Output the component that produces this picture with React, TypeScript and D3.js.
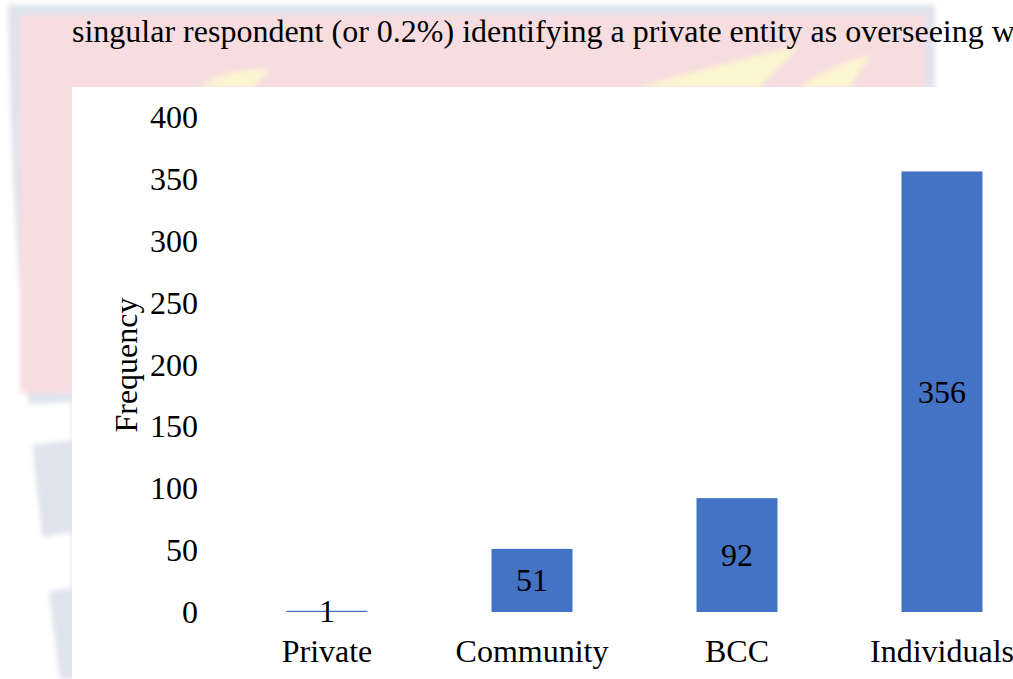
import React from "react";
import * as d3 from "d3";

const categories = ["Private", "Community", "BCC", "Individuals"];
const frequencies = [1, 51, 92, 356];
const yTicks = [0, 50, 100, 150, 200, 250, 300, 350, 400];
const yAxisTitle = "Frequency";
const bodyText = "singular respondent (or 0.2%) identifying a private entity as overseeing w";

const W = 1013;
const H = 679;
const FONT = "'Liberation Serif', 'Times New Roman', serif";
const BAR = "#4472C4";
const FS = 32;

export default function App() {
  const y = d3.scaleLinear().domain([0, 400]).range([612, 117]);
  const x = d3
    .scaleBand<string>()
    .domain(categories)
    .range([224.5, 1044.5])
    .paddingInner(0.605)
    .paddingOuter(0.3025);

  return (
    <svg
      width={W}
      height={H}
      style={{ position: "absolute", left: 0, top: 0, background: "#fff" }}
      fontFamily={FONT}
    >
      <defs>
        <filter id="blur" x="-20%" y="-20%" width="140%" height="140%">
          <feGaussianBlur stdDeviation="2.5" />
        </filter>
      </defs>
      {/* watermark background */}
      <g filter="url(#blur)">
        <path d="M8,5 L935,5 L935,679 L60,679 C40,520 14,330 8,5 Z" fill="#dfe3ed" />
        <rect x={20} y={15} width={905} height={378} fill="#f8dde0" />
        <path d="M20,405 L72,402 L72,440 L22,446 Z" fill="#ffffff" />
        <path d="M30,540 L72,532 L72,588 L44,592 Z" fill="#ffffff" />
        <path d="M200,87 C215,75 240,68 270,70 C262,78 255,84 252,87 Z" fill="#fbf5d0" />
        <path d="M640,87 C680,75 740,60 800,45 C785,62 770,76 760,87 Z" fill="#fbf5d0" />
        <path d="M800,87 C820,72 845,62 870,55 C862,68 855,78 850,87 Z" fill="#fbf5d0" />
      </g>
      <text x={72} y={42} fontSize={FS} fontFamily={FONT} fill="#000">
        {bodyText}
      </text>
      {/* chart area */}
      <rect x={72} y={87} width={W - 72} height={H - 87} fill="#fff" />
      {yTicks.map((t) => (
        <text
          key={t}
          x={198}
          y={y(t)}
          fontSize={FS}
          fontFamily={FONT}
          textAnchor="end"
          dominantBaseline="central"
          fill="#000"
        >
          {t}
        </text>
      ))}
      <text
        transform={`translate(126,365) rotate(-90)`}
        fontSize={FS}
        fontFamily={FONT}
        textAnchor="middle"
        dominantBaseline="central"
        fill="#000"
      >
        {yAxisTitle}
      </text>
      {categories.map((c, i) => {
        const v = frequencies[i];
        const x0 = x(c)!;
        const top = y(v);
        const h = Math.max(y(0) - top, 1);
        return (
          <g key={c}>
            <rect x={x0} y={y(0) - h} width={x.bandwidth()} height={h} fill={BAR} />
            <text
              x={x0 + x.bandwidth() / 2}
              y={(y(0) + top) / 2}
              fontSize={FS}
              fontFamily={FONT}
              textAnchor="middle"
              dominantBaseline="central"
              fill="#000"
            >
              {v}
            </text>
            <text
              x={x0 + x.bandwidth() / 2}
              y={651}
              fontSize={FS}
              fontFamily={FONT}
              textAnchor="middle"
              dominantBaseline="central"
              fill="#000"
            >
              {c}
            </text>
          </g>
        );
      })}
    </svg>
  );
}
